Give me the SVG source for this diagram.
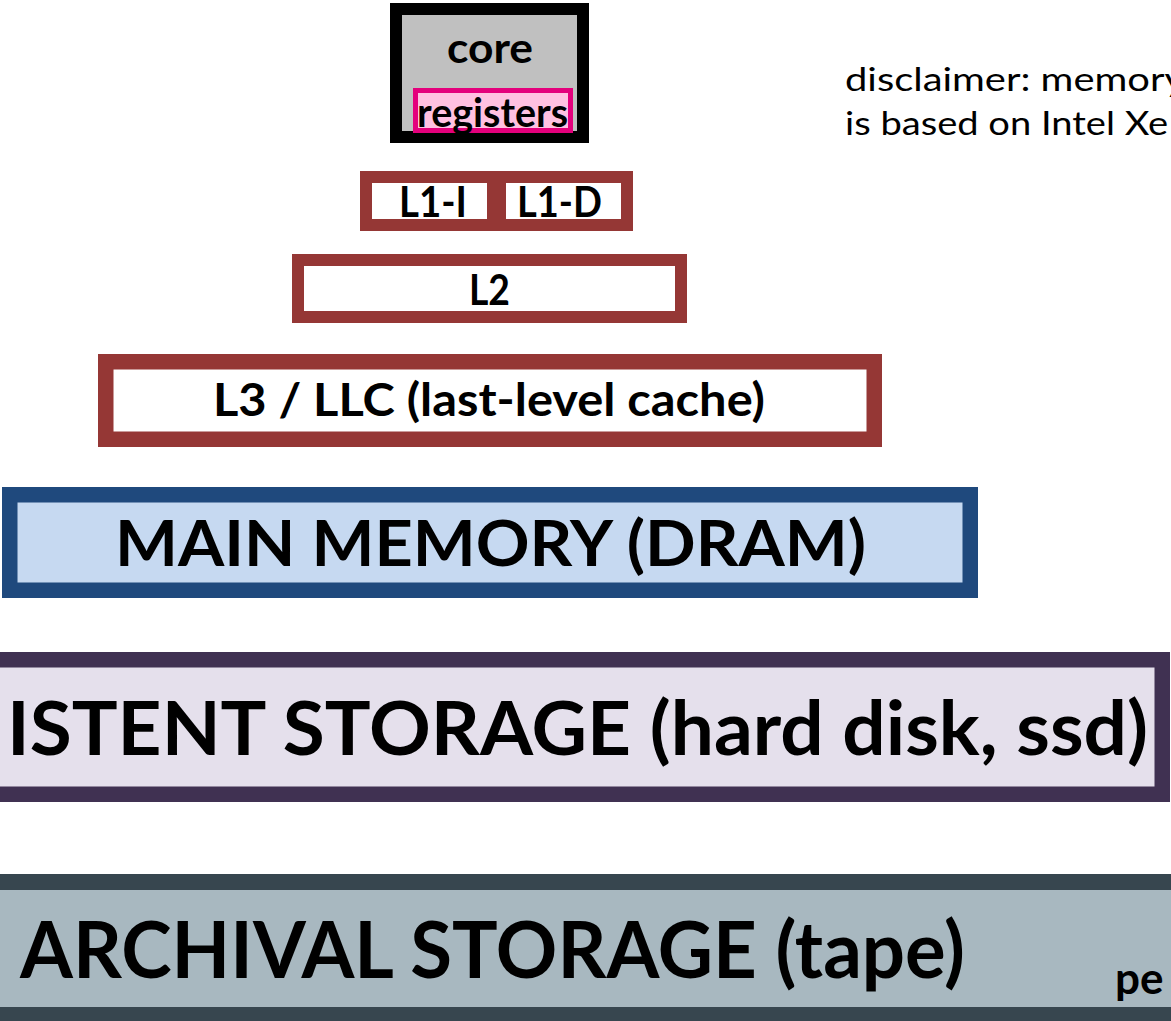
<svg xmlns="http://www.w3.org/2000/svg" width="1171" height="1021" viewBox="0 0 1171 1021">
  <style>
    .lbl { font-family: Lato, "Open Sans", "DejaVu Sans", sans-serif; font-weight: bold; fill: #000; }
    .note { font-family: Lato, "Open Sans", "DejaVu Sans", sans-serif; font-weight: normal; fill: #000; }
    .cache { fill: #ffffff; stroke: #953735; stroke-width: 12; }
  </style>
  <rect x="0" y="0" width="1171" height="1021" fill="#ffffff"/>

  <!-- processor core with its register file -->
  <g id="core">
    <rect x="396" y="9" width="187" height="128" fill="#c0c0c0" stroke="#000000" stroke-width="12"/>
    <text class="lbl" x="447" y="63" font-size="42" textLength="86" lengthAdjust="spacingAndGlyphs">core</text>
  </g>
  <g id="registers">
    <rect x="415.5" y="90.5" width="155" height="40" fill="#ffc1e1" stroke="#e4007c" stroke-width="5"/>
    <text class="lbl" x="417" y="127" font-size="40" textLength="151" lengthAdjust="spacingAndGlyphs">registers</text>
  </g>

  <!-- level-1 split caches -->
  <g id="l1i">
    <rect class="cache" x="366" y="177" width="127" height="48"/>
    <text class="lbl" x="399" y="217" font-size="42" textLength="68" lengthAdjust="spacingAndGlyphs">L1-I</text>
  </g>
  <g id="l1d">
    <rect class="cache" x="500" y="177" width="127" height="48"/>
    <text class="lbl" x="517" y="217" font-size="42" textLength="85" lengthAdjust="spacingAndGlyphs">L1-D</text>
  </g>

  <!-- level-2 cache -->
  <g id="l2">
    <rect class="cache" x="298" y="260" width="383" height="57"/>
    <text class="lbl" x="469" y="305" font-size="42" textLength="41" lengthAdjust="spacingAndGlyphs">L2</text>
  </g>

  <!-- last-level cache -->
  <g id="l3">
    <rect x="105.75" y="361.75" width="768.5" height="77.5" fill="#ffffff" stroke="#953735" stroke-width="15.5"/>
    <text class="lbl" x="213" y="416" font-size="46" textLength="552" lengthAdjust="spacingAndGlyphs">L3 / LLC (last-level cache)</text>
  </g>

  <!-- DRAM -->
  <g id="main-memory">
    <rect x="9.75" y="494.75" width="960.5" height="95.5" fill="#c6d9f1" stroke="#1f497d" stroke-width="15.5"/>
    <text class="lbl" x="115" y="566" font-size="63" textLength="751" lengthAdjust="spacingAndGlyphs">MAIN MEMORY (DRAM)</text>
  </g>

  <!-- disk / ssd -->
  <g id="persistent-storage">
    <rect x="-20" y="659.75" width="1182.25" height="134.5" fill="#e5e0ec" stroke="#403152" stroke-width="15.5"/>
    <text class="lbl" x="7" y="755" font-size="74" textLength="1141" lengthAdjust="spacingAndGlyphs">ISTENT STORAGE (hard disk, ssd)</text>
  </g>

  <!-- tape -->
  <g id="archival-storage">
    <rect x="-20" y="882" width="1220" height="133" fill="#a8b8c0" stroke="#37464f" stroke-width="16"/>
    <text class="lbl" x="20" y="978" font-size="78" textLength="945" lengthAdjust="spacingAndGlyphs">ARCHIVAL STORAGE (tape)</text>
    <text class="lbl" x="1115" y="994" font-size="44">pe</text>
  </g>

  <!-- side note -->
  <g id="disclaimer">
    <text class="note" x="845" y="91" font-size="33" textLength="340" lengthAdjust="spacingAndGlyphs">disclaimer: memory</text>
    <text class="note" x="845" y="135" font-size="33" textLength="323" lengthAdjust="spacingAndGlyphs">is based on Intel Xe</text>
  </g>
</svg>
